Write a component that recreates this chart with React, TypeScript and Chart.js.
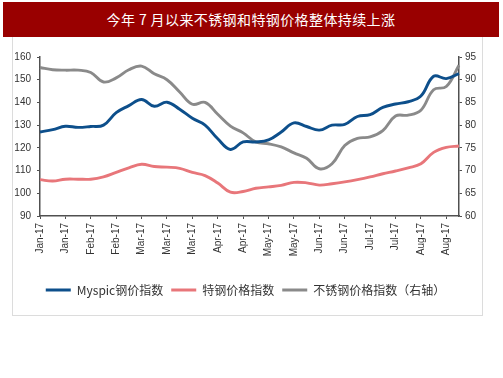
import React, { useEffect, useRef } from 'react';
import { Chart, registerables } from 'chart.js';

Chart.register(...registerables);

const title = '今年 7 月以来不锈钢和特钢价格整体持续上涨';

const categories = [
  'Jan-17', 'Jan-17', 'Jan-17', 'Jan-17', 'Feb-17', 'Feb-17', 'Feb-17', 'Feb-17',
  'Mar-17', 'Mar-17', 'Mar-17', 'Mar-17', 'Mar-17', 'Mar-17', 'Apr-17', 'Apr-17',
  'Apr-17', 'Apr-17', 'May-17', 'May-17', 'May-17', 'May-17', 'Jun-17', 'Jun-17',
  'Jun-17', 'Jun-17', 'Jul-17', 'Jul-17', 'Jul-17', 'Jul-17', 'Aug-17', 'Aug-17',
  'Aug-17', 'Aug-17',
];

const seriesNames = ['Myspic钢价指数', '特钢价格指数', '不锈钢价格指数（右轴）'];

const myspic = [
  127, 128, 129.5, 129, 129.4, 130, 135.5, 138.6, 141.3, 138.3,
  140.1, 137, 133, 130, 124, 119.3, 122.6, 122.6, 123.5, 127,
  131, 129.4, 127.8, 130, 130.3, 133.8, 134.6, 137.8, 139.3, 140.3,
  142.8, 151.5, 150.5, 152.7,
];

const specialSteel = [
  106, 105.4, 106.2, 106.2, 106.2, 107.2, 109.2, 111.2, 112.8, 111.8,
  111.5, 111, 109.2, 107.8, 104.5, 100.5, 100.8, 102.2, 102.8, 103.5,
  104.8, 104.6, 103.6, 104.2, 105, 106, 107.2, 108.6, 109.8, 111.2,
  113, 118, 120.2, 120.8,
];

const stainless = [
  92.7, 92.2, 92.1, 92.1, 91.6, 89.5, 90.4, 92.2, 93, 91.3,
  90, 87.3, 84.6, 85, 82.4, 79.8, 78.3, 76.3, 75.9, 75.2,
  73.9, 72.7, 70.4, 71.5, 75.5, 77.1, 77.4, 78.8, 82, 82.2,
  83.3, 87.8, 88.5, 93.2,
];

const leftMin = 90;
const leftMax = 160;
const leftStep = 10;
const rightMin = 60;
const rightMax = 95;
const rightStep = 5;

const BLUE = '#0d4f8b';
const PINK = '#e8767a';
const GREY = '#8a8a8a';
const AXIS = '#505050';
const TEXT = '#333333';

export default function App() {
  const ref = useRef<HTMLCanvasElement>(null);

  useEffect(() => {
    const chart = new Chart(ref.current!, {
      type: 'line',
      data: {
        labels: categories,
        datasets: [
          { label: seriesNames[0], data: myspic, borderColor: BLUE, backgroundColor: BLUE, yAxisID: 'y' },
          { label: seriesNames[1], data: specialSteel, borderColor: PINK, backgroundColor: PINK, yAxisID: 'y' },
          { label: seriesNames[2], data: stainless, borderColor: GREY, backgroundColor: GREY, yAxisID: 'y1' },
        ],
      },
      options: {
        responsive: false,
        animation: false,
        devicePixelRatio: 1,
        layout: { padding: { left: 0, right: 12, top: 57, bottom: 72 } },
        elements: {
          point: { radius: 0 },
          line: { borderWidth: 2.9, tension: 0.4 },
        },
        plugins: {
          legend: {
            position: 'bottom',
            labels: {
              boxWidth: 25,
              boxHeight: 3,
              padding: 8,
              color: TEXT,
              font: { family: "'Noto Sans CJK SC', 'Noto Sans', sans-serif", size: 12 },
              generateLabels: (c: any) =>
                (Chart.defaults.plugins.legend.labels.generateLabels as any)(c).map((l: any) => ({
                  ...l,
                  lineWidth: 0,
                  fillStyle: l.strokeStyle,
                })),
            },
          },
          tooltip: { enabled: false },
        },
        scales: {
          x: {
            type: 'category',
            offset: false,
            grid: {
              drawOnChartArea: false,
              tickLength: 3,
              tickColor: (ctx: any) => (ctx.index % 2 === 0 ? AXIS : 'rgba(0,0,0,0)'),
            },
            border: { color: AXIS, width: 1.5 },
            ticks: {
              autoSkip: false,
              maxRotation: 90,
              minRotation: 90,
              padding: 4,
              color: TEXT,
              font: { family: "'Liberation Sans', Arial, sans-serif", size: 10 },
              callback: (_v: any, i: number) => (i % 2 === 0 ? categories[i] : ''),
            },
            afterFit: (s: any) => {
              s.height = 60;
            },
          },
          y: {
            position: 'left',
            min: leftMin,
            max: leftMax,
            grid: { drawOnChartArea: false, tickLength: 3, tickColor: AXIS },
            border: { color: AXIS, width: 1.5 },
            ticks: {
              stepSize: leftStep,
              padding: 6,
              color: TEXT,
              font: { family: "'Liberation Sans Narrow', 'Liberation Sans', Arial, sans-serif", size: 10 },
            },
            afterFit: (s: any) => {
              s.width = 40;
            },
          },
          y1: {
            position: 'right',
            min: rightMin,
            max: rightMax,
            grid: { drawOnChartArea: false, tickLength: 3, tickColor: AXIS },
            border: { color: AXIS, width: 1.5 },
            ticks: {
              stepSize: rightStep,
              padding: 3,
              color: TEXT,
              font: { family: "'Liberation Sans Narrow', 'Liberation Sans', Arial, sans-serif", size: 10 },
            },
            afterFit: (s: any) => {
              s.width = 32;
            },
          },
        },
      } as any,
    });
    return () => chart.destroy();
  }, []);

  return (
    <div style={{ position: 'fixed', left: 0, top: 0, width: 503, height: 378, background: '#ffffff', overflow: 'hidden' }}>
      <div
        style={{
          position: 'absolute',
          left: 3,
          top: 2,
          width: 496,
          height: 35,
          background: '#990000',
          color: '#ffffff',
          fontFamily: "'Noto Sans CJK SC', sans-serif",
          fontSize: 14,
          letterSpacing: '0.4px',
          lineHeight: '35px',
          textAlign: 'center',
          whiteSpace: 'pre',
        }}
      >
        {title}
      </div>
      <div
        style={{
          position: 'absolute',
          left: 12,
          top: 37,
          width: 469,
          height: 278,
          borderLeft: '1px solid #dcdcdc',
          borderRight: '1px solid #dcdcdc',
          borderBottom: '1px solid #dcdcdc',
        }}
      />
      <canvas
        ref={ref}
        width={503}
        height={378}
        style={{ position: 'absolute', left: 0, top: 0, width: 503, height: 378 }}
      />
    </div>
  );
}
